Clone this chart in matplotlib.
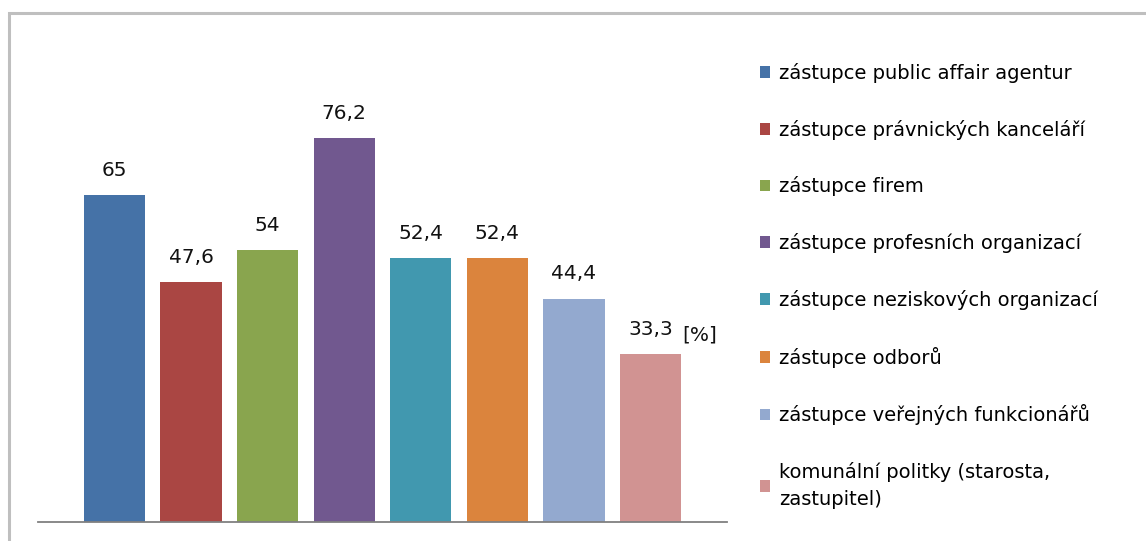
import matplotlib
matplotlib.use('Agg')
import matplotlib.pyplot as plt
from matplotlib.patches import Rectangle

plt.rcParams['font.family'] = ['DejaVu Sans']

groups = ["zástupce public affair agentur",
          "zástupce právnických kanceláří",
          "zástupce firem",
          "zástupce profesních organizací",
          "zástupce neziskových organizací",
          "zástupce odborů",
          "zástupce veřejných funkcionářů",
          "komunální politky (starosta,\nzastupitel)"]
values = [65, 47.6, 54, 76.2, 52.4, 52.4, 44.4, 33.3]
value_labels = ["65", "47,6", "54", "76,2", "52,4", "52,4", "44,4", "33,3"]
colors = ["#4572A7", "#AA4643", "#89A54E", "#71588F",
          "#4198AF", "#DB843D", "#93A9CF", "#D19392"]

fig = plt.figure(figsize=(11.46, 5.41), dpi=100)
ax = fig.add_axes([38/1146, 19/541, 689/1146, 453/541])

bars = []
for i, (g, v, lab, c) in enumerate(zip(groups, values, value_labels, colors)):
    b = ax.bar(i, v, width=0.8, color=c, label=g)
    bars.append(b)
    ax.text(i, v + 3.0, lab, ha='center', va='bottom', fontsize=14.5, color='#111111')

ax.text(7.42, 33.3 + 2.0, "[%]", ha='left', va='bottom', fontsize=14.5, color='#111111')

ax.set_xlim(-1, 8)
ax.set_ylim(0, 90)
for side in ['top', 'right', 'left']:
    ax.spines[side].set_visible(False)
ax.spines['bottom'].set_color('#808080')
ax.spines['bottom'].set_linewidth(1.3)
ax.set_xticks([])
ax.set_yticks([])

leg = ax.legend(handles=bars, labels=groups, loc='upper left',
                bbox_to_anchor=(752/1146, 1 - 55/541), bbox_transform=fig.transFigure,
                frameon=False, fontsize=14, handlelength=0.55, handleheight=0.55,
                handletextpad=0.45, labelspacing=1.89, borderaxespad=0)
for t in leg.get_texts():
    t.set_linespacing(1.5)

# grey frame round the chart area
fig.patches.append(Rectangle((9/1146, -0.05), 1.2, 1 - 13/541 + 0.05,
                             transform=fig.transFigure, fill=False,
                             edgecolor='#BFBFBF', linewidth=2.2))

fig.savefig("out.png", dpi=100)
